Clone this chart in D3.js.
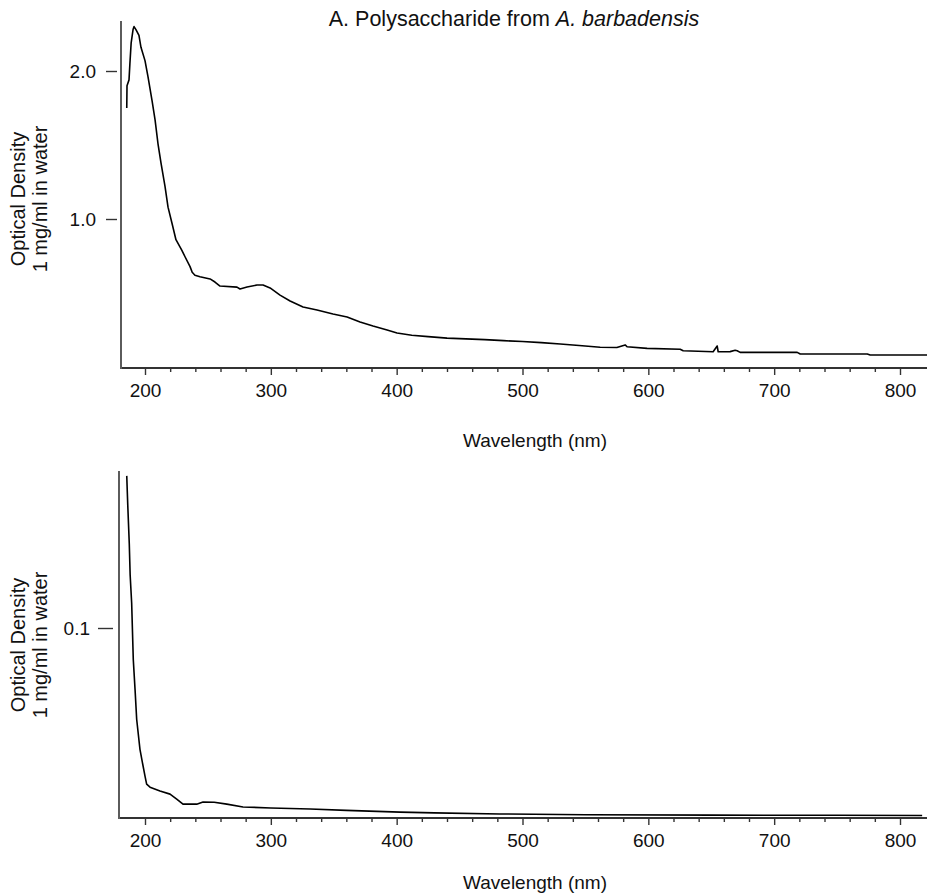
<!DOCTYPE html>
<html>
<head>
<meta charset="utf-8">
<script src="https://cdn.jsdelivr.net/npm/d3@7"></script>
<style>
  html, body { margin: 0; padding: 0; background: #fff; }
  svg { display: block; font-family: "Liberation Sans", Arial, Helvetica, sans-serif; }
</style>
</head>
<body>
<svg id="chart" width="927" height="895"></svg>
<script>
// ---- Data ----
const xMajorTicks = [200, 300, 400, 500, 600, 700, 800];
const xMinorTicks = [220, 240, 260, 280, 320, 340, 360, 380, 420, 440, 460, 480,
                     520, 540, 560, 580, 620, 640, 660, 680, 720, 740, 760, 780];
const topYTicks = [1.0, 2.0];
const bottomYTicks = [0.1];

const topWavelength = [185.5, 185.7, 187.3, 188.0, 189.0, 190.5, 191.3, 192.8, 195.2, 196.8,
  200.0, 202.4, 205.6, 208.0, 210.3, 212.7, 215.9, 218.3, 221.5, 224.6, 229.2, 231.8,
  235.8, 237.5, 239.7, 243.7, 251.7, 255.6, 259.6, 273.1, 275.5, 281.1, 289.0, 293.8,
  299.4, 307.3, 315.3, 325.6, 336.7, 349.4, 360.6, 370.9, 381.2, 392.4, 400.3, 412,
  425, 440, 455, 470, 485, 500, 515, 530, 545, 561.7, 575, 581.6, 583.1, 599, 625.3,
  627.7, 651.5, 654.7, 655.5, 665, 669, 670.6, 673, 718.3, 720.7, 774, 776.3, 821.6];
const topOD = [1.75, 1.90, 1.94, 2.05, 2.19, 2.28, 2.30, 2.28, 2.24, 2.16,
  2.07, 1.96, 1.80, 1.67, 1.51, 1.38, 1.22, 1.08, 0.97, 0.86, 0.79, 0.745,
  0.678, 0.64, 0.62, 0.61, 0.595, 0.574, 0.547, 0.54, 0.527, 0.54, 0.554, 0.554,
  0.534, 0.486, 0.446, 0.405, 0.385, 0.358, 0.338, 0.304, 0.277, 0.25, 0.23, 0.215,
  0.205, 0.195, 0.19, 0.185, 0.178, 0.172, 0.165, 0.155, 0.145, 0.133, 0.132, 0.149,
  0.137, 0.126, 0.12, 0.11, 0.103, 0.142, 0.103, 0.104, 0.113, 0.11, 0.099, 0.099,
  0.088, 0.088, 0.081, 0.081];

const bottomWavelength = [185.5, 185.9, 186.3, 187.5, 188.2, 189.4, 190.7, 192.1, 193.4,
  196.0, 198.2, 200.0, 201.3, 204.0, 211.9, 219.9, 225.2, 230.2, 241.1, 246.1, 255,
  265, 277.9, 300, 331.2, 360, 402.7, 430, 482, 550, 650, 750, 817.6];
const bottomOD = [0.1805, 0.1726, 0.165, 0.1447, 0.128, 0.1132, 0.0832, 0.0674, 0.0516,
  0.0358, 0.0279, 0.0216, 0.0174, 0.0158, 0.0137, 0.0121, 0.0095, 0.0068, 0.0068, 0.0079,
  0.0078, 0.0068, 0.0053, 0.0048, 0.0042, 0.0035, 0.0026, 0.0022, 0.0016, 0.0012, 0.0010,
  0.0009, 0.0008];

// ---- Drawing ----
const svg = d3.select("#chart");
const FONT = 19;
const axisColor = "#333";

const x = d3.scaleLinear().domain([200, 800]).range([145, 900]);

function panel(cfg) {
  const g = svg.append("g");
  const y = d3.scaleLinear().domain(cfg.yDomain).range(cfg.yRange);

  // y axis line
  g.append("line")
    .attr("x1", cfg.yAxisX).attr("x2", cfg.yAxisX)
    .attr("y1", cfg.yTop).attr("y2", cfg.xAxisY + 1)
    .attr("stroke", axisColor).attr("stroke-width", 1.6);

  // y ticks (detached from the axis line)
  const yAx = g.append("g")
    .attr("transform", `translate(${cfg.yTickRight},0)`)
    .call(d3.axisLeft(y).tickValues(cfg.yTicks).tickSize(cfg.yTickLen)
      .tickPadding(cfg.yTickPad).tickFormat(cfg.yFormat));
  yAx.select(".domain").remove();
  yAx.selectAll("line").attr("stroke", axisColor).attr("stroke-width", 1.4);
  yAx.selectAll("text").attr("font-size", FONT).attr("fill", "#111")
    .attr("font-family", '"Liberation Sans", Arial, Helvetica, sans-serif');

  // x axis line
  g.append("line")
    .attr("x1", cfg.yAxisX + 1).attr("x2", 927)
    .attr("y1", cfg.xAxisY).attr("y2", cfg.xAxisY)
    .attr("stroke", axisColor).attr("stroke-width", 2.2);

  const minor = g.append("g").attr("transform", `translate(0,${cfg.xAxisY})`)
    .call(d3.axisBottom(x).tickValues(xMinorTicks).tickSize(4).tickFormat(""));
  minor.select(".domain").remove();
  minor.selectAll("line").attr("stroke", axisColor).attr("stroke-width", 1.4);

  const major = g.append("g").attr("transform", `translate(0,${cfg.xAxisY})`)
    .call(d3.axisBottom(x).tickValues(xMajorTicks).tickSize(7).tickPadding(9)
      .tickFormat(d3.format("d")));
  major.select(".domain").remove();
  major.selectAll("line").attr("stroke", axisColor).attr("stroke-width", 1.4);
  major.selectAll("text").attr("font-size", FONT).attr("fill", "#111")
    .attr("font-family", '"Liberation Sans", Arial, Helvetica, sans-serif');

  // x axis title
  g.append("text")
    .attr("x", 535).attr("y", cfg.xTitleY)
    .attr("text-anchor", "middle").attr("font-size", FONT).attr("fill", "#111")
    .text("Wavelength (nm)");

  // y axis title (two lines, rotated)
  const yt = g.append("text")
    .attr("transform", `translate(0,${cfg.yTitleCenter}) rotate(-90)`)
    .attr("text-anchor", "middle").attr("font-size", FONT + 1).attr("fill", "#111");
  yt.append("tspan").attr("x", 0).attr("y", 25).text("Optical Density");
  yt.append("tspan").attr("x", 0).attr("y", 47).text("1 mg/ml in water");

  // data line
  const pts = cfg.wl.map((w, i) => [w, cfg.od[i]]);
  g.append("path")
    .datum(pts)
    .attr("fill", "none")
    .attr("stroke", "#000")
    .attr("stroke-width", 1.6)
    .attr("stroke-linejoin", "round")
    .attr("d", d3.line().x(d => x(d[0])).y(d => y(d[1])));
}

panel({
  yDomain: [0, 2.0], yRange: [367, 71],
  yAxisX: 121, yTop: 21, xAxisY: 368,
  yTickRight: 117, yTickLen: 11, yTickPad: 10,
  yTicks: topYTicks, yFormat: d3.format(".1f"),
  xTitleY: 447, yTitleCenter: 199,
  wl: topWavelength, od: topOD
});

panel({
  yDomain: [0, 0.1], yRange: [817, 628],
  yAxisX: 119, yTop: 471, xAxisY: 818,
  yTickRight: 113, yTickLen: 15, yTickPad: 8,
  yTicks: bottomYTicks, yFormat: d3.format(".1f"),
  xTitleY: 889, yTitleCenter: 645,
  wl: bottomWavelength, od: bottomOD
});

// main title
const title = svg.append("text")
  .attr("x", 514).attr("y", 26)
  .attr("text-anchor", "middle").attr("font-size", 21.5).attr("fill", "#111");
title.append("tspan").text("A. Polysaccharide from ");
title.append("tspan").attr("font-style", "italic").text("A. barbadensis");
</script>
</body>
</html>
